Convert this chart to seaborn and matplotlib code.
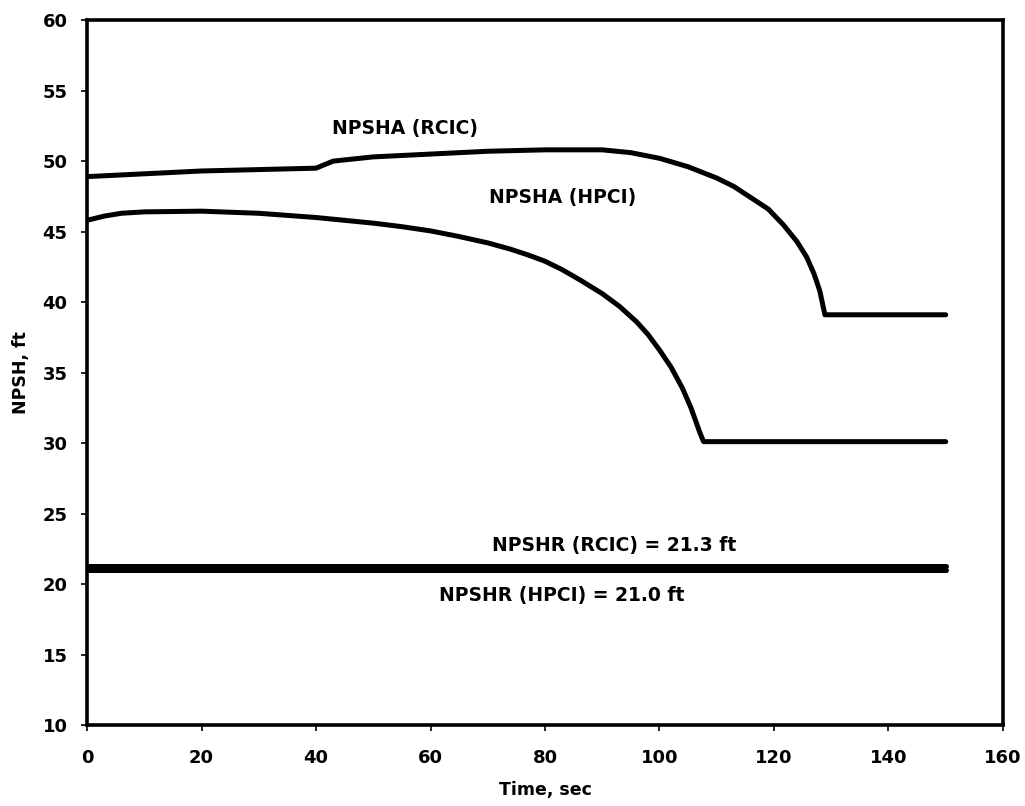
import numpy as np
import pandas as pd
import matplotlib
matplotlib.use("Agg")
import matplotlib.pyplot as plt
import seaborn as sns

# Data
rcic_t = [0, 10, 20, 30, 40, 43, 50, 60, 70, 80, 90, 95, 100, 105, 110, 113, 116, 119, 121.6, 124, 125.7, 127, 128, 128.9, 150]
rcic_y = [48.9, 49.1, 49.3, 49.4, 49.5, 50.0, 50.3, 50.5, 50.7, 50.8, 50.8, 50.6, 50.2, 49.6, 48.8, 48.2, 47.4, 46.6, 45.5, 44.3, 43.2, 42.0, 40.8, 39.1, 39.1]
hpci_t = [0, 3, 6, 10, 20, 30, 40, 50, 55, 60, 65, 70, 74, 77, 80, 83, 86, 90, 93, 96, 98, 100, 102, 104, 105.5, 107, 107.7, 150]
hpci_y = [45.8, 46.1, 46.3, 46.4, 46.45, 46.3, 46.0, 45.6, 45.35, 45.05, 44.65, 44.2, 43.75, 43.35, 42.9, 42.3, 41.6, 40.6, 39.7, 38.6, 37.7, 36.6, 35.4, 33.9, 32.5, 30.8, 30.1, 30.1]
npshr_t = [0, 150]
npshr_rcic = [21.3, 21.3]
npshr_hpci = [21.0, 21.0]

x_ticks = [0, 20, 40, 60, 80, 100, 120, 140, 160]
y_ticks = [10, 15, 20, 25, 30, 35, 40, 45, 50, 55, 60]

df = pd.concat([
    pd.DataFrame({"t": rcic_t, "v": rcic_y, "s": "NPSHA (RCIC)"}),
    pd.DataFrame({"t": hpci_t, "v": hpci_y, "s": "NPSHA (HPCI)"}),
    pd.DataFrame({"t": npshr_t, "v": npshr_rcic, "s": "NPSHR (RCIC)"}),
    pd.DataFrame({"t": npshr_t, "v": npshr_hpci, "s": "NPSHR (HPCI)"}),
])

sns.set_theme(style="ticks")
plt.rcParams['font.family'] = ['DejaVu Sans']
plt.rcParams['font.weight'] = 'bold'
plt.rcParams['text.color'] = 'black'
plt.rcParams['axes.labelcolor'] = 'black'

fig = plt.figure(figsize=(10.25, 8.06), dpi=100)
ax = fig.add_axes([0.0849, 0.1005, 0.8936, 0.8745])

sns.lineplot(data=df, x="t", y="v", hue="s", units="s", estimator=None,
             palette={"NPSHA (RCIC)": "black", "NPSHA (HPCI)": "black",
                      "NPSHR (RCIC)": "black", "NPSHR (HPCI)": "black"},
             linewidth=3.6, legend=False, ax=ax, sort=False)
for line in ax.get_lines():
    line.set_solid_capstyle('round')
    line.set_solid_joinstyle('round')

ax.set_xlim(0, 160)
ax.set_ylim(10, 60)
ax.set_xticks(x_ticks)
ax.set_yticks(y_ticks)
ax.tick_params(axis='both', labelsize=13, width=1.2, length=4, direction='out', colors='black')
ax.tick_params(axis='x', pad=13)
ax.tick_params(axis='y', pad=10)
for lab in ax.get_xticklabels() + ax.get_yticklabels():
    lab.set_fontweight('bold')
for sp in ax.spines.values():
    sp.set_visible(True)
    sp.set_linewidth(2.6)
    sp.set_color('black')

ax.set_xlabel("Time, sec", fontsize=12.5, fontweight='bold', color='black')
ax.set_ylabel("NPSH, ft", fontsize=12.5, fontweight='bold', color='black')
ax.xaxis.set_label_coords(0.5, -0.080)
ax.yaxis.set_label_coords(-0.062, 0.5)

tk = dict(fontsize=13.5, fontweight='bold', ha='center', va='center', color='black')
ax.text(55.5, 52.3, "NPSHA (RCIC)", **tk)
ax.text(83, 47.4, "NPSHA (HPCI)", **tk)
ax.text(92, 22.7, "NPSHR (RCIC) = 21.3 ft", **tk)
ax.text(83, 19.2, "NPSHR (HPCI) = 21.0 ft", **tk)

fig.savefig("out.png", dpi=100, facecolor='white')
